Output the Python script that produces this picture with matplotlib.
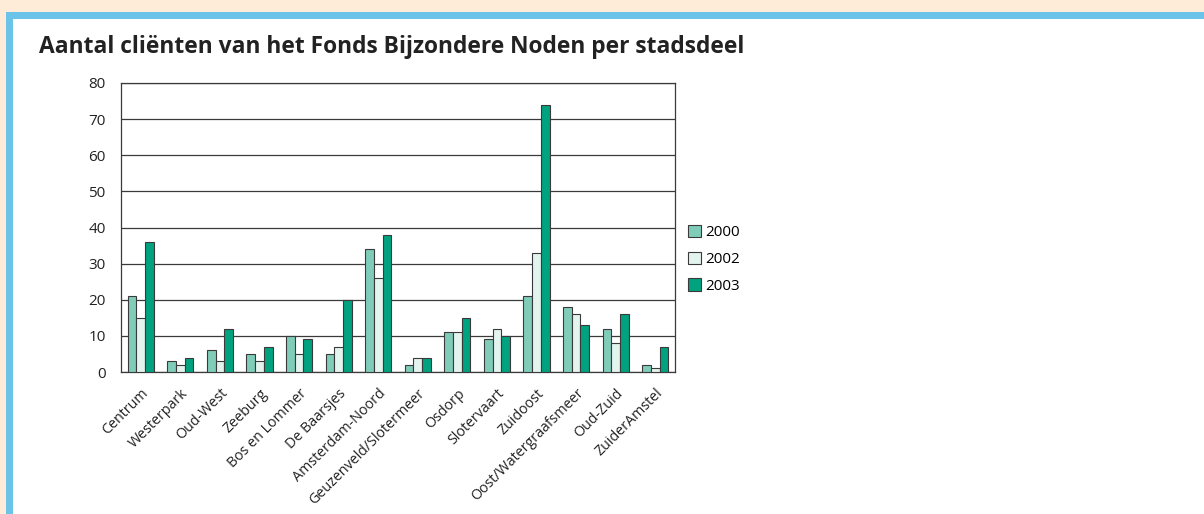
import numpy as np
import matplotlib
matplotlib.use('Agg')
import matplotlib.pyplot as plt
from matplotlib.patches import Rectangle

plt.rcParams['font.family'] = ['Open Sans', 'DejaVu Sans']

stadsdelen = ['Centrum', 'Westerpark', 'Oud-West', 'Zeeburg', 'Bos en Lommer',
              'De Baarsjes', 'Amsterdam-Noord', 'Geuzenveld/Slotermeer', 'Osdorp',
              'Slotervaart', 'Zuidoost', 'Oost/Watergraafsmeer', 'Oud-Zuid',
              'ZuiderAmstel']
jaren = ['2000', '2002', '2003']
v2000 = [21, 3, 6, 5, 10, 5, 34, 2, 11, 9, 21, 18, 12, 2]
v2002 = [15, 2, 3, 3, 5, 7, 26, 4, 11, 12, 33, 16, 8, 1]
v2003 = [36, 4, 12, 7, 9, 20, 38, 4, 15, 10, 74, 13, 16, 7]
kleuren = ['#7fcdb9', '#e3f3ee', '#00a27f']

fig = plt.figure(figsize=(12.04, 5.14), dpi=100)
fig.patch.set_facecolor('white')

# achtergrond: perzik rand met blauwe balk
W, H = 1204, 514
fig.patches.append(Rectangle((0, 0), 1, 1, transform=fig.transFigure,
                             facecolor='#feecd9', edgecolor='none', zorder=-3))
fig.patches.append(Rectangle((6 / W, 0), 1 - 6 / W, 1 - 12 / H, transform=fig.transFigure,
                             facecolor='#6cc3ea', edgecolor='none', zorder=-2))
fig.patches.append(Rectangle((13 / W, 0), 1 - 13 / W, 1 - 19 / H, transform=fig.transFigure,
                             facecolor='white', edgecolor='none', zorder=-1))

fig.text(39 / W, 1 - 47 / H, 'Aantal cliënten van het Fonds Bijzondere Noden per stadsdeel',
         fontsize=16.4, fontweight='bold', color='#222222', va='center', ha='left')

ax = fig.add_axes([121 / W, 1 - 372 / H, (675 - 121) / W, (372 - 83) / H])
x = np.arange(len(stadsdelen))
bw = 0.22
for i, (vals, jaar) in enumerate(zip([v2000, v2002, v2003], jaren)):
    ax.bar(x + (i - 1) * bw, vals, bw, color=kleuren[i], edgecolor='#3a3a3a',
           linewidth=0.8, label=jaar, zorder=3)

ax.set_xlim(-0.5, len(stadsdelen) - 0.5)
ax.set_ylim(0, 80)
ax.set_yticks(range(0, 81, 10))
ax.yaxis.grid(True, color='#3a3a3a', linewidth=0.9, zorder=0)
ax.set_xticks(x)
ax.set_xticklabels(stadsdelen, rotation=45, ha='right', rotation_mode='anchor',
                   fontsize=10.3, color='#222222')
ax.tick_params(axis='y', length=0, labelsize=11, labelcolor='#222222', pad=11)
ax.tick_params(axis='x', length=0, pad=10)
for s in ax.spines.values():
    s.set_color('#3a3a3a')
    s.set_linewidth(0.9)

ax.legend(loc='center left', bbox_to_anchor=(0.998, 0.39), frameon=False,
          fontsize=11, handlelength=0.85, handleheight=0.85, handletextpad=0.3,
          labelspacing=0.75)

fig.savefig('out.png', dpi=100, facecolor=fig.get_facecolor())
